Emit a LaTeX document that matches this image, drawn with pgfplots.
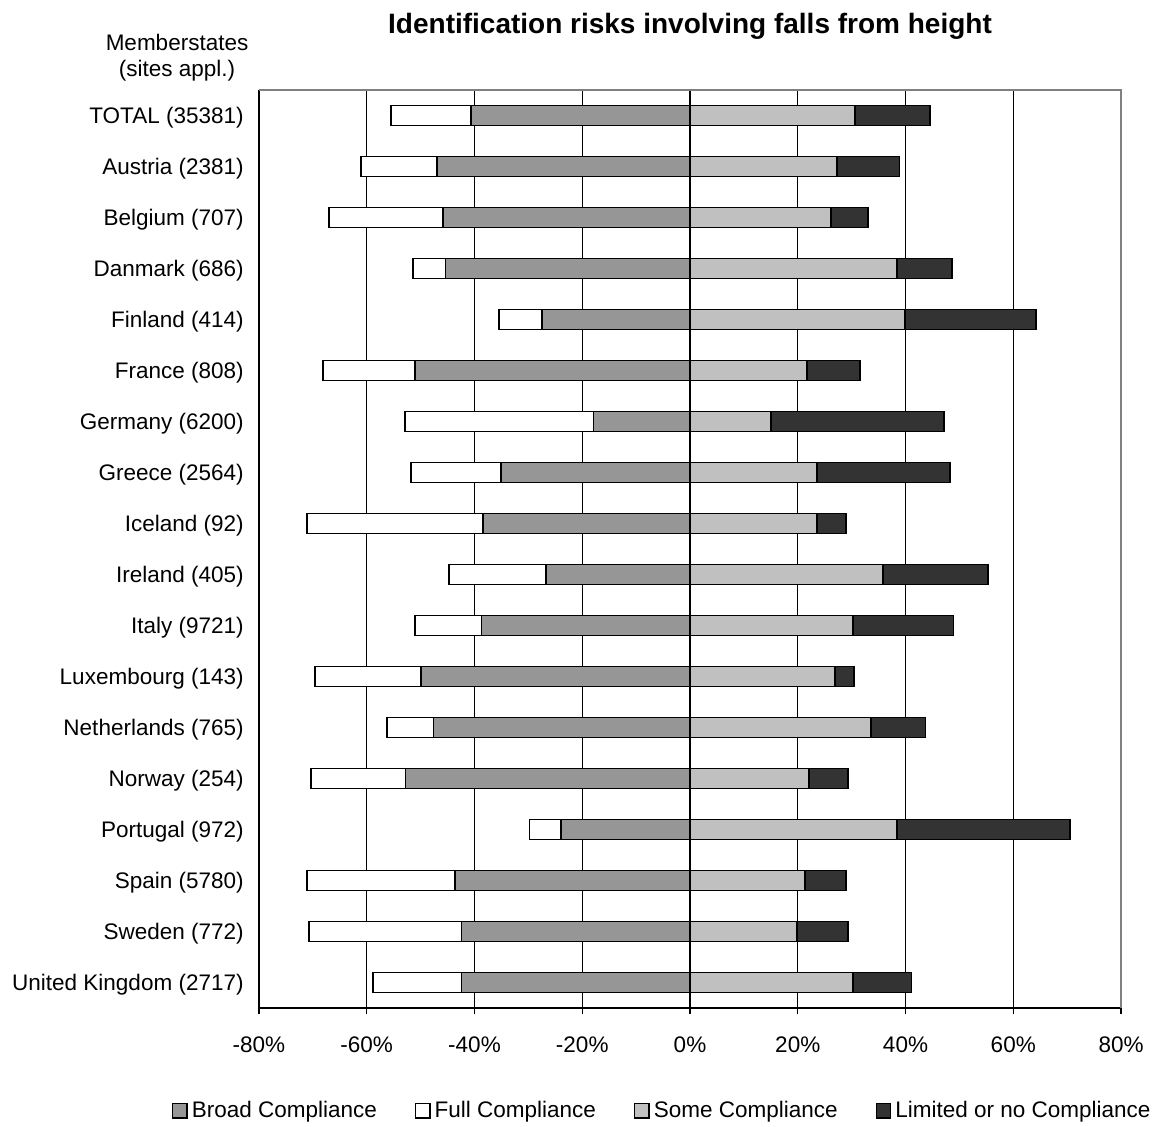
\documentclass[border=0pt]{standalone}
\usepackage{fontspec}
\setmainfont{Liberation Sans}
\usepackage{pgfplots}
\usepackage{pgfplotstable}
\pgfplotsset{compat=1.18}

\definecolor{broad}{RGB}{150,150,150}
\definecolor{some}{RGB}{192,192,192}
\definecolor{limited}{RGB}{51,51,51}
\definecolor{framegray}{RGB}{128,128,128}

% Shares of sites per compliance level (%), one row per member state
% pos: vertical slot (17 = top row)
\pgfplotstableread{
pos broad full some limited
17 40.6 14.9 30.6 13.9
16 46.9 14.2 27.3 11.6
15 45.8 21.2 26.2  6.8
14 45.4  6.0 38.4 10.2
13 27.5  8.0 39.9 24.3
12 51.0 17.1 21.7  9.8
11 17.9 35.0 15.0 32.1
10 35.1 16.7 23.6 24.6
 9 38.4 32.7 23.6  5.3
 8 26.8 17.9 35.8 19.5
 7 38.7 12.3 30.3 18.6
 6 49.9 19.7 26.9  3.5
 5 47.6  8.6 33.6 10.1
 4 52.8 17.5 22.1  7.2
 3 23.9  5.9 38.4 32.1
 2 43.6 27.5 21.3  7.6
 1 42.4 28.3 19.9  9.4
 0 42.4 16.4 30.3 10.8
}\data

\pgfplotsset{
  legbox/.style={draw=black, line width=0.7pt,
    legend image code/.code={\draw[##1] (0pt,-3.6pt) rectangle (7.2pt,3.6pt);}},
  barstyle/.style={xbar, bar width=10pt, bar shift=0pt, draw=black,
    line width=0.9pt, forget plot},
}

\newcommand\lblfont{\fontsize{11.25}{13.5}\selectfont}

\begin{document}
\begin{tikzpicture}
\useasboundingbox (-129.5pt,-59pt) rectangle (446.5pt,504pt);
\begin{axis}[
  at={(0,0)}, anchor=south west,
  scale only axis, width=431pt, height=459pt,
  clip=false,
  xmin=-80, xmax=80, ymin=-0.5, ymax=17.5,
  axis x line*=bottom, axis y line*=left,
  axis line style={black, line width=0.9pt},
  xtick={-80,-60,-40,-20,0,20,40,60,80},
  xticklabels={-80\%,-60\%,-40\%,-20\%,0\%,20\%,40\%,60\%,80\%},
  ytick={0,...,17},
  yticklabels={United Kingdom (2717),Sweden (772),Spain (5780),Portugal (972),
    Norway (254),Netherlands (765),Luxembourg (143),Italy (9721),Ireland (405),
    Iceland (92),Greece (2564),Germany (6200),France (808),Finland (414),
    Danmark (686),Belgium (707),Austria (2381),TOTAL (35381)},
  xmajorgrids,
  major grid style={black, line width=0.7pt},
  tick align=outside,
  x tick style={black, line width=0.7pt},
  major tick length=3pt,
  y tick style={draw=none},
  tick label style={font=\lblfont},
  xticklabel style={inner sep=0pt, anchor=north, yshift=-11pt},
  yticklabel style={inner sep=0pt, anchor=east, xshift=-4.5pt, yshift=-1pt},
  legend columns=4,
  legend style={draw=none, font=\lblfont, at={(0.469,-0.112)}, anchor=center,
    inner sep=0pt,
    /tikz/every even column/.append style={column sep=17pt},
    /tikz/every odd column/.append style={column sep=0pt},
    cells={anchor=west}},
]
% left side: full compliance stacked outside broad compliance
\addplot[barstyle, fill=white] table[y=pos, x expr={-\thisrow{broad}-\thisrow{full}}] {\data};
\addplot[barstyle, fill=broad] table[y=pos, x expr={-\thisrow{broad}}] {\data};
% right side: limited compliance stacked outside some compliance
\addplot[barstyle, fill=limited] table[y=pos, x expr={\thisrow{some}+\thisrow{limited}}] {\data};
\addplot[barstyle, fill=some] table[y=pos, x=some] {\data};

\addlegendimage{legbox, fill=broad}
\addlegendentry{Broad Compliance}
\addlegendimage{legbox, fill=white}
\addlegendentry{Full Compliance}
\addlegendimage{legbox, fill=some}
\addlegendentry{Some Compliance}
\addlegendimage{legbox, fill=limited}
\addlegendentry{Limited or no Compliance}

% plot-area frame on top and right
\draw[framegray, line width=1pt] (axis description cs:0,1) -- (axis description cs:1,1)
  -- (axis description cs:1,0);

\node[font=\fontsize{14}{17}\selectfont\bfseries, anchor=base]
  at (axis description cs:0.5,1.061) {Identification risks involving falls from height};
\node[font=\lblfont, anchor=base] at (axis description cs:-0.0951,1.0425) {Memberstates};
\node[font=\lblfont, anchor=base] at (axis description cs:-0.0951,1.0142) {(sites appl.)};
\end{axis}
\end{tikzpicture}
\end{document}
